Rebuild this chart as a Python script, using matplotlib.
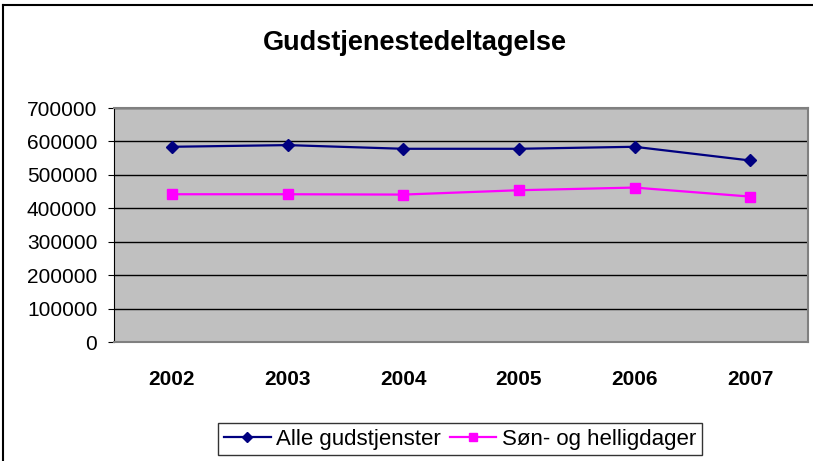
import matplotlib.pyplot as plt
from matplotlib.lines import Line2D

years = ["2002", "2003", "2004", "2005", "2006", "2007"]
alle = [584000, 589000, 578000, 578000, 584000, 543000]
son = [442000, 442000, 441000, 454000, 462000, 435000]
y_ticks = [0, 100000, 200000, 300000, 400000, 500000, 600000, 700000]

plt.rcParams["font.family"] = ["Liberation Sans", "DejaVu Sans"]

fig = plt.figure(figsize=(8.13, 4.61), dpi=100)
ax = fig.add_axes([114 / 813, 1 - 342 / 461, (808 - 114) / 813, (342 - 108) / 461])
ax.set_facecolor("#C0C0C0")

x = range(len(years))
ax.plot(x, alle, color="#000080", marker="D", markersize=6.5, lw=1.6,
        label="Alle gudstjenster")
ax.plot(x, son, color="#FF00FF", marker="s", markersize=7, lw=1.6,
        label="Søn- og helligdager")

ax.set_xlim(-0.5, len(years) - 0.5)
ax.set_ylim(0, 700000)
ax.set_yticks(y_ticks)
ax.set_yticklabels([str(v) for v in y_ticks], fontsize=15)
ax.set_xticks(list(x))
ax.set_xticklabels(years, fontsize=15, fontweight="bold")
ax.tick_params(axis="x", length=0, pad=20)
ax.tick_params(axis="y", length=4.5, direction="out", pad=7.5)
ax.yaxis.grid(True, color="black", lw=1)
ax.set_axisbelow(True)
for side in ["top", "right", "bottom"]:
    ax.spines[side].set_color("#808080")
    ax.spines[side].set_linewidth(1.5)
ax.spines["left"].set_color("black")

fig.text(415 / 813, 1 - 50 / 461, "Gudstjenestedeltagelse", ha="center", va="baseline",
         fontsize=19.5, fontweight="bold")

leg = fig.legend(loc="center", bbox_to_anchor=(460 / 813, 1 - 439 / 461), ncol=2,
                 fontsize=16, frameon=True, fancybox=False, edgecolor="black",
                 handlelength=2.1, handletextpad=0.25, columnspacing=0.4,
                 borderpad=0.25, markerscale=0.8)
leg.get_frame().set_linewidth(1)

# outer chart border (left and top)
fig.add_artist(Line2D([3 / 813, 3 / 813], [0, 1 - 5 / 461], color="black", lw=1.5,
                      transform=fig.transFigure))
fig.add_artist(Line2D([3 / 813, 1], [1 - 5 / 461, 1 - 5 / 461], color="black", lw=1.5,
                      transform=fig.transFigure))

fig.savefig("out.png", dpi=100)
